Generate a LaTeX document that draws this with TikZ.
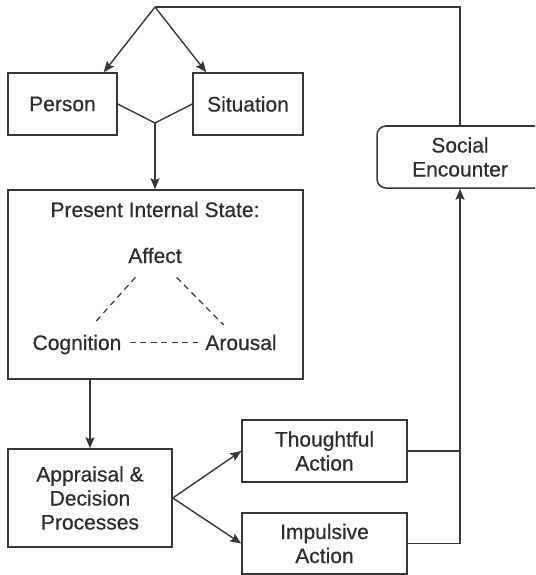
\documentclass[tikz,border=0pt]{standalone}
\usepackage{fontspec}
\setmainfont{Liberation Sans}[FakeBold=0.5]
\usetikzlibrary{arrows.meta,calc}
\definecolor{ink}{RGB}{55,55,55}
\definecolor{txt}{RGB}{45,45,45}
\begin{document}
\begin{tikzpicture}[x=1pt,y=-1pt,
  every node/.style={font=\fontsize{21}{24}\selectfont, text=txt},
  box/.style={draw=ink, line width=1.5pt, align=center, inner sep=0pt},
  lbl/.style={inner sep=0pt, text height=15pt, text depth=0pt, anchor=base},
  ln/.style={draw=ink, line width=1.4pt},
  arr/.style={ln, -{Stealth[length=11pt,width=9pt,inset=2pt]}},
  dsh/.style={draw=ink, line width=1.2pt, dash pattern=on 6pt off 4.5pt}]
\useasboundingbox (0,0) rectangle (535,575);
\clip (0,0) rectangle (535,575);

% boxes
\node[box, minimum width=109pt, minimum height=62pt] (person) at (62.5,104) {Person};
\node[box, minimum width=110pt, minimum height=62pt] (situation) at (248,104) {Situation};
\node[box, minimum width=295pt, minimum height=189pt] (pis) at (155.5,284.5) {};
\node[box, rounded corners=9pt, minimum width=166pt, minimum height=62pt] (soc) at (460,157) {Social\\Encounter};
\node[box, minimum width=164pt, minimum height=98pt] (appraisal) at (90,498) {Appraisal \&\\Decision\\Processes};
\node[box, minimum width=165pt, minimum height=62pt] (thought) at (324.5,451) {Thoughtful\\Action};
\node[box, minimum width=165pt, minimum height=61pt] (impulse) at (324.5,543.5) {Impulsive\\Action};

% contents of the internal state box
\node[lbl] (pistitle) at (155,217) {Present Internal State:};
\node[lbl] (affect) at (155,263) {Affect};
\node[lbl] (cognition) at (77,350) {Cognition};
\node[lbl] (arousal) at (241,350) {Arousal};
\draw[dsh, shorten <=19pt, shorten >=17pt] (affect) -- (cognition);
\draw[dsh, shorten <=20pt, shorten >=14pt] (affect) -- (arousal);
\draw[dsh, shorten <=8pt, shorten >=7pt] (cognition) -- (arousal);

% connectors
\coordinate (apex) at (155,7);
\coordinate (join) at (155,123);
\draw[arr] (apex) -- ([xshift=-14pt]person.north east);
\draw[arr] (apex) -- ([xshift=14pt]situation.north west);
\draw[ln] (apex) -- (apex -| soc.north) -- (soc.north);
\draw[ln] (person.east) -- (join) -- (situation.west);
\draw[arr] (join) -- (join |- pis.north);
\draw[arr] (appraisal.north |- pis.south) -- (appraisal.north);
\draw[arr] (appraisal.east) -- (thought.west);
\draw[arr] (appraisal.east) -- (impulse.west);
\draw[ln] (thought.east) -- (thought.east -| soc.south);
\draw[arr] (impulse.east) -- (impulse.east -| soc.south) -- (soc.south);
\end{tikzpicture}
\end{document}
